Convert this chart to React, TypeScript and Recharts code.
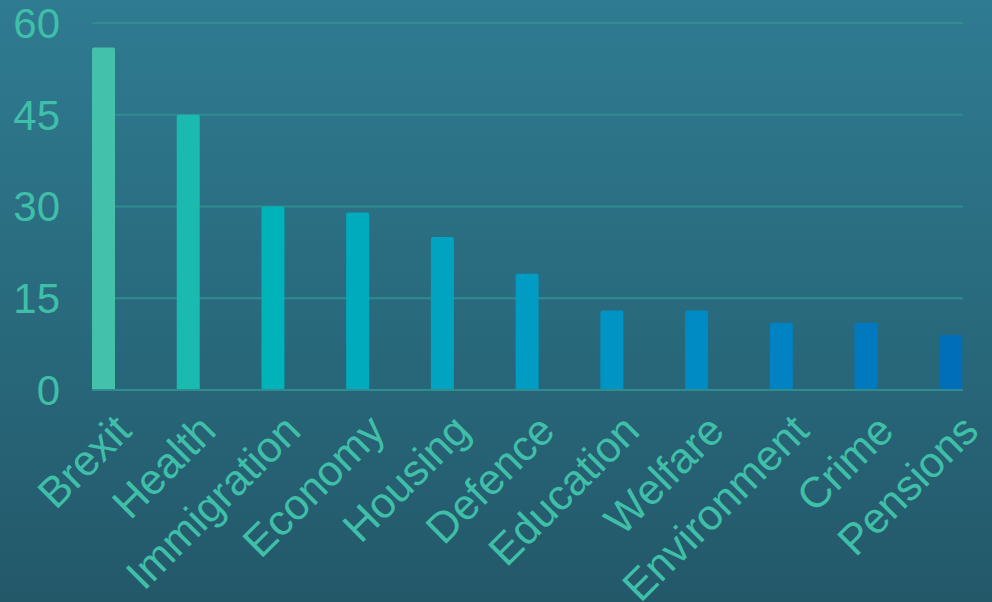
import React from "react";
import { BarChart, Bar, XAxis, YAxis, CartesianGrid, Cell } from "recharts";

const topics = [
  "Brexit",
  "Health",
  "Immigration",
  "Economy",
  "Housing",
  "Defence",
  "Education",
  "Welfare",
  "Environment",
  "Crime",
  "Pensions",
];
const shares = [56, 45, 30, 29, 25, 19, 13, 13, 11, 11, 9];
const barColors = [
  "#43c1aa",
  "#1bbab0",
  "#00b3b8",
  "#00abbe",
  "#00a4c1",
  "#009cc3",
  "#0094c5",
  "#008bc5",
  "#0082c3",
  "#0079bf",
  "#006eb9",
];
const yTicks = [0, 15, 30, 45, 60];

const data = topics.map((name, i) => ({ name, value: shares[i] }));

const textColor = "#3fbfa8";
const font = "'Liberation Sans', Arial, sans-serif";

const RotatedTick = (props: any) => {
  const { x, y, payload } = props;
  return (
    <g transform={`translate(${x + 30},${y + 43})`}>
      <text
        x={0}
        y={0}
        textAnchor="end"
        transform="rotate(-45)"
        fill={textColor}
        fontSize={43}
        fontFamily={font}
      >
        {payload.value}
      </text>
    </g>
  );
};

export default function App() {
  return (
    <div
      style={{
        position: "fixed",
        left: 0,
        top: 0,
        width: 992,
        height: 602,
        background: "linear-gradient(to bottom, #2f7b91 0%, #28677a 60%, #235869 100%)",
      }}
    >
      <BarChart
        width={992}
        height={602}
        data={data}
        margin={{ top: 23, right: 29, left: 0, bottom: 0 }}
      >
        <CartesianGrid
          vertical={false}
          stroke="#2f8d90"
          strokeWidth={2}
        />
        <XAxis
          dataKey="name"
          interval={0}
          padding={{ left: -31, right: -30 }}
          axisLine={{ stroke: "#2f8d90", strokeWidth: 2 }}
          tickLine={false}
          tickSize={0}
          tickMargin={0}
          tick={<RotatedTick />}
          height={212}
        />
        <YAxis
          domain={[0, 60]}
          ticks={yTicks}
          interval={0}
          width={92}
          axisLine={false}
          tickLine={false}
          tickSize={0}
          tickMargin={32}
          tick={{ fill: textColor, fontSize: 42, fontFamily: font }}
        />
        <Bar dataKey="value" barSize={23} radius={[2, 2, 0, 0]} isAnimationActive={false}>
          {data.map((d, i) => (
            <Cell key={d.name} fill={barColors[i]} />
          ))}
        </Bar>
      </BarChart>
    </div>
  );
}
